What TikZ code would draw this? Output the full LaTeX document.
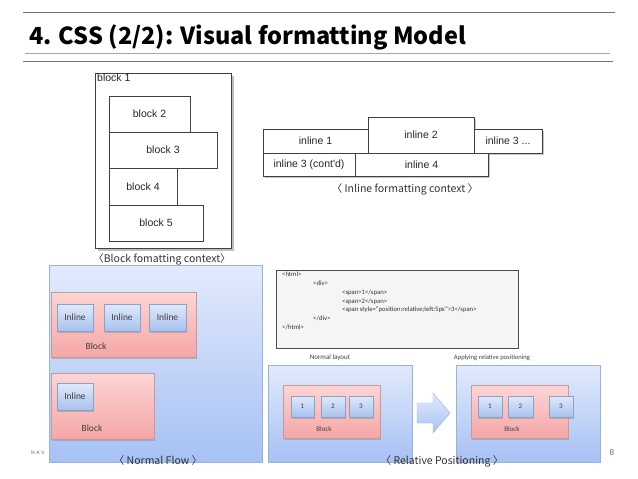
\documentclass[tikz,border=0pt]{standalone}
\usepackage{fontspec}
\setmainfont{Carlito}
\newfontfamily\helvfont{Liberation Sans}
\newfontfamily\krfont{Noto Sans CJK KR}
\usetikzlibrary{shapes.arrows,shadows,positioning}

\definecolor{panelTop}{HTML}{E2EAFC}
\definecolor{panelBot}{HTML}{A6C1F4}
\definecolor{panelLine}{HTML}{9CB1D8}
\definecolor{blockTop}{HTML}{FCD5D5}
\definecolor{blockBot}{HTML}{F5A6A6}
\definecolor{blockLine}{HTML}{C49A9A}
\definecolor{itemTop}{HTML}{DFE9FB}
\definecolor{itemBot}{HTML}{A8C2EE}
\definecolor{itemLine}{HTML}{8CA1C6}

\begin{document}
\begin{tikzpicture}[
  x=1pt, y=-1pt,
  box/.style={anchor=north west, inner sep=0pt, outer sep=0pt},
  figbox/.style={box, draw=black!75, fill=white, font=\helvfont\fontsize{10.5}{12}\selectfont, text=black!85},
  figshadow/.style={drop shadow={opacity=0.45, shadow xshift=1.5pt, shadow yshift=-2pt}},
  panel/.style={box, draw=panelLine, top color=panelTop, bottom color=panelBot},
  blockbox/.style={box, draw=blockLine, top color=blockTop, bottom color=blockBot,
    drop shadow={opacity=0.4, shadow xshift=1pt, shadow yshift=-1.5pt}},
  item/.style={box, draw=itemLine, top color=itemTop, bottom color=itemBot,
    drop shadow={opacity=0.4, shadow xshift=1pt, shadow yshift=-1.5pt}, text=black!75},
  bigtxt/.style={font=\fontsize{9.5}{11}\selectfont, text=black!75},
  smalltxt/.style={font=\fontsize{7}{8}\selectfont, text=black!75},
  caption/.style={font=\krfont\fontsize{10.5}{12}\selectfont, text=black!80}
]
\useasboundingbox[fill=white] (0,0) rectangle (638,479);

% title with rules
\draw[black!55, line width=0.8pt] (23,12) -- (615,12);
\node[anchor=base west, inner sep=0pt, font=\krfont\bfseries\fontsize{23.5}{26}\selectfont] (title) at (29,44) {4. CSS (2/2): Visual formatting Model};
\draw[black!35, line width=0.6pt] (25,53) -- (610,53);
\draw[black!55, line width=1pt] (23,61) -- (613,61);

% block formatting context
\node[figbox, drop shadow={opacity=0.5, shadow xshift=2.5pt, shadow yshift=-3pt}, minimum width=136, minimum height=175] (blk1) at (95,73) {};
\node[anchor=north west, inner sep=1pt, font=\helvfont\fontsize{10.5}{12}\selectfont, text=black!85] (blk1txt) at (96,73) {block 1};
\node[figbox, minimum width=81, minimum height=36] (blk2) at (109,96) {block 2};
\node[figbox, minimum width=108, minimum height=36] (blk3) at (109,132) {block 3};
\node[figbox, minimum width=68, minimum height=37] (blk4) at (109,168) {block 4};
\node[figbox, minimum width=94, minimum height=36] (blk5) at (109,205) {block 5};
\node[caption] (blkcap) at (162,259) {〈Block fomatting context〉};

% inline formatting context
\node[figbox, figshadow, minimum width=105, minimum height=24] (inl1) at (263,129) {inline 1};
\node[figbox, figshadow, minimum width=106, minimum height=36] (inl2) at (368,117) {inline 2};
\node[figbox, figshadow, minimum width=68, minimum height=24] (inl3) at (474,129) {inline 3 ...};
\node[figbox, figshadow, minimum width=92, minimum height=23] (inl3b) at (263,153) {inline 3 (cont'd)};
\node[figbox, figshadow, minimum width=133, minimum height=23] (inl4) at (355,153) {inline 4};
\node[caption] (inlcap) at (405,189) {〈 Inline formatting context 〉};

% normal flow
\node[anchor=base west, inner sep=0pt, font=\helvfont\fontsize{5}{6}\selectfont, text=black!60] (nav) at (31,454) {N\,\,A\,\,V};
\node[panel, minimum width=213, minimum height=197] (flow) at (49,265) {};
\node[blockbox, minimum width=145, minimum height=65] (flowA) at (51,292) {};
\node[item, bigtxt, minimum width=36, minimum height=27] (flowA1) at (57,304) {Inline};
\node[item, bigtxt, minimum width=36, minimum height=27] (flowA2) at (104,304) {Inline};
\node[item, bigtxt, minimum width=37, minimum height=27] (flowA3) at (149,304) {Inline};
\node[bigtxt] (flowAtxt) at (96,346) {Block};
\node[blockbox, minimum width=103, minimum height=66] (flowB) at (51,373) {};
\node[item, bigtxt, minimum width=36, minimum height=27] (flowB1) at (57,383) {Inline};
\node[bigtxt] (flowBtxt) at (92,428) {Block};
\node[caption] (flowcap) at (158,461) {〈 Normal Flow 〉};

% html source
\node[box, draw=black!70, fill=black!4, minimum width=242, minimum height=78] (src) at (276,270) {};
\node[anchor=north west, inner sep=0pt, align=left, font=\fontsize{6.7}{8.9}\selectfont, text=black!80] (srctxt) at (282,271.5)
  {<html>\\
   \hspace*{31pt}<div>\\
   \hspace*{60pt}<span>1</span>\\
   \hspace*{60pt}<span>2</span>\\
   \hspace*{60pt}<span style="position:relative;left:5px">3</span>\\
   \hspace*{31pt}</div>\\
   </html>};

% normal layout
\node[smalltxt] (normtxt) at (330,358) {Normal layout};
\node[panel, minimum width=144, minimum height=97] (norm) at (268,365) {};
\node[blockbox, minimum width=97, minimum height=53] (normblk) at (283,385) {};
\node[item, smalltxt, minimum width=23, minimum height=21] (norm1) at (291,396) {1};
\node[item, smalltxt, minimum width=24, minimum height=21] (norm2) at (321,396) {2};
\node[item, smalltxt, minimum width=24, minimum height=21] (norm3) at (349,396) {3};
\node[smalltxt] (normblktxt) at (324,429) {Block};

% arrow
\draw[draw=panelLine, top color=panelTop, bottom color=panelBot]
  (417,403) -- (433,403) -- (433,393) -- (450,413) -- (433,433) -- (433,423) -- (417,423) -- cycle;

% relative positioning
\node[smalltxt, font=\fontsize{6.6}{8}\selectfont] (reltxt) at (492,358) {Applying relative positioning};
\node[panel, minimum width=144, minimum height=97] (rel) at (456,365) {};
\node[blockbox, minimum width=97, minimum height=53] (relblk) at (471,385) {};
\node[item, smalltxt, minimum width=24, minimum height=21] (rel1) at (478,396) {1};
\node[item, smalltxt, minimum width=25, minimum height=21] (rel2) at (508,396) {2};
\node[item, smalltxt, minimum width=24, minimum height=21] (rel3) at (549,396) {3};
\node[smalltxt] (relblktxt) at (512,429) {Block};
\node[caption] (relcap) at (442,461) {〈 Relative Positioning 〉};

\node[font=\fontsize{9}{10}\selectfont, text=black!55] (page) at (612,452) {8};
\end{tikzpicture}
\end{document}
